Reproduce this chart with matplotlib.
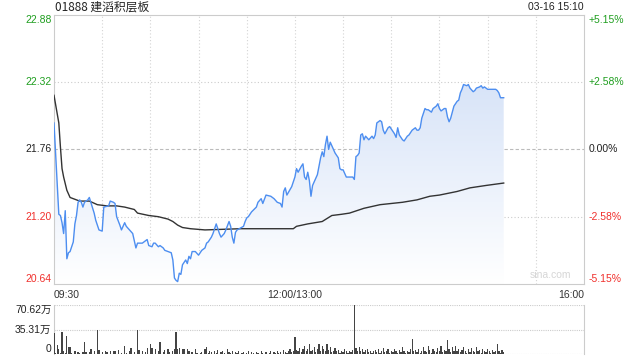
import numpy as np
import matplotlib.pyplot as plt
from matplotlib.colors import LinearSegmentedColormap

# minute index from 09:30 (lunch break removed), 330 minutes per session day
price_min = [0, 3, 4, 5, 6, 7, 8, 9, 10, 12, 13, 14, 15, 16, 17, 18, 19, 21, 22, 25,
             26, 28, 30, 31, 34, 35, 37, 38, 39, 41, 42, 44, 45, 47, 49, 51, 52, 55, 56, 58,
             59, 61, 62, 63, 65, 66, 68, 69, 71, 73, 74, 75, 76, 77, 78, 79, 80, 82, 83, 84,
             85, 86, 88, 90, 92, 94, 95, 96, 98, 99, 100, 101, 102, 103, 104, 106, 107, 109, 110, 111,
             112, 113, 114, 118, 119, 120, 121, 123, 126, 127, 129, 130, 132, 135, 137, 139, 141, 142, 143, 144,
             145, 148, 149, 150, 151, 152, 154, 155, 156, 157, 158, 159, 160, 161, 164, 166, 167, 168, 169, 170,
             171, 172, 174, 175, 177, 178, 179, 180, 181, 182, 186, 187, 188, 189, 190, 191, 192, 193, 194, 196,
             198, 199, 200, 201, 203, 204, 205, 206, 208, 209, 210, 211, 212, 213, 214, 215, 216, 217, 218, 220,
             221, 223, 225, 226, 227, 228, 229, 231, 232, 233, 235, 236, 238, 239, 240, 241, 242, 243, 244, 245,
             246, 247, 248, 249, 250, 251, 252, 253, 254, 255, 257, 258, 259, 261, 262, 263, 265, 266, 267, 268,
             269, 270, 272, 275, 276, 277, 278, 280]
price_val = [21.98, 21.22, 21.21, 21.15, 21.06, 21.25, 20.85, 20.90, 20.91, 20.99, 21.14, 21.21, 21.32, 21.34, 21.32, 21.28, 21.32, 21.34, 21.36, 21.23,
             21.17, 21.09, 21.08, 21.28, 21.29, 21.33, 21.32, 21.31, 21.20, 21.13, 21.09, 21.15, 21.12, 21.09, 21.06, 20.94, 20.98, 20.98, 20.99, 21.01,
             20.96, 20.95, 20.98, 20.98, 20.95, 20.96, 20.94, 20.92, 20.91, 20.90, 20.84, 20.69, 20.67, 20.66, 20.73, 20.72, 20.80, 20.84, 20.81, 20.87,
             20.85, 20.91, 20.91, 20.88, 20.92, 20.94, 20.98, 20.99, 21.03, 21.06, 21.10, 21.14, 21.10, 21.06, 21.03, 21.06, 21.09, 21.16, 21.12, 21.03,
             20.98, 21.07, 21.09, 21.12, 21.16, 21.19, 21.20, 21.24, 21.28, 21.32, 21.35, 21.31, 21.38, 21.37, 21.35, 21.32, 21.31, 21.28, 21.41, 21.44,
             21.38, 21.45, 21.49, 21.53, 21.60, 21.57, 21.62, 21.64, 21.53, 21.51, 21.57, 21.50, 21.37, 21.46, 21.55, 21.69, 21.74, 21.70, 21.80, 21.87,
             21.76, 21.82, 21.76, 21.73, 21.69, 21.60, 21.59, 21.59, 21.56, 21.53, 21.53, 21.51, 21.70, 21.71, 21.73, 21.88, 21.89, 21.84, 21.87, 21.84,
             21.87, 21.85, 21.88, 21.98, 22.00, 21.99, 21.92, 21.89, 21.94, 21.95, 21.93, 21.91, 21.89, 21.86, 21.94, 21.88, 21.86, 21.84, 21.83, 21.87,
             21.88, 21.92, 21.94, 21.92, 21.92, 21.94, 22.02, 22.10, 22.09, 22.09, 22.07, 22.10, 22.12, 22.14, 22.10, 22.08, 22.09, 22.10, 22.10, 22.03,
             21.99, 22.02, 22.07, 22.12, 22.14, 22.16, 22.17, 22.23, 22.26, 22.30, 22.29, 22.30, 22.27, 22.24, 22.25, 22.27, 22.28, 22.29, 22.27, 22.28,
             22.27, 22.26, 22.26, 22.26, 22.25, 22.23, 22.19, 22.19]

avg_min = [0, 3, 4, 5, 6, 8, 10, 16, 22, 27, 33, 39, 44, 50, 52, 59, 65, 71, 74, 77,
           80, 85, 94, 116, 141, 149, 151, 158, 167, 173, 179, 184, 193, 203, 217, 226, 234, 240, 251, 259,
           269, 280]
avg_val = [22.21, 21.98, 21.78, 21.60, 21.53, 21.42, 21.36, 21.33, 21.33, 21.30, 21.29, 21.29, 21.28, 21.26, 21.23, 21.21, 21.20, 21.18, 21.16, 21.13,
           21.11, 21.10, 21.09, 21.10, 21.10, 21.10, 21.12, 21.14, 21.16, 21.21, 21.22, 21.23, 21.27, 21.30, 21.32, 21.34, 21.37, 21.38, 21.41, 21.44,
           21.46, 21.48]

# volume per minute, in 万 shares
volume = [31, 2, 13, 7, 2, 32, 5, 2, 26, 10, 10, 2, 1, 4, 1, 3, 2, 1, 3, 17,
          3, 1, 3, 7, 1, 5, 1, 34, 6, 1, 3, 1, 5, 3, 1, 5, 1, 4, 4, 1,
          6, 1, 2, 1, 12, 2, 1, 5, 9, 1, 3, 1, 35, 6, 1, 4, 1, 3, 9, 1,
          15, 9, 1, 8, 1, 4, 18, 1, 3, 6, 1, 7, 3, 1, 4, 7, 32, 7, 9, 1,
          8, 7, 1, 8, 4, 1, 3, 1, 7, 2, 1, 2, 3, 1, 7, 11, 2, 5, 3, 1,
          4, 2, 6, 1, 3, 5, 2, 1, 7, 3, 2, 4, 1, 3, 2, 5, 1, 2, 3, 1,
          2, 4, 1, 3, 2, 1, 3, 2, 1, 4, 2, 1, 3, 1, 2, 4, 1, 3, 2, 5,
          2, 3, 1, 6, 3, 2, 4, 8, 3, 5, 24, 6, 4, 9, 3, 7, 12, 5, 8, 14,
          4, 6, 10, 3, 8, 14, 5, 12, 7, 4, 15, 6, 10, 3, 5, 9, 4, 6, 2, 5,
          3, 7, 4, 2, 5, 3, 6, 70.62, 9, 5, 10, 4, 7, 3, 6, 8, 3, 5, 2, 4,
          6, 3, 8, 2, 5, 9, 3, 4, 7, 2, 5, 3, 8, 4, 2, 6, 3, 10, 4, 2,
          5, 3, 7, 22, 4, 6, 3, 8, 2, 5, 10, 4, 3, 12, 6, 2, 7, 4, 3, 9,
          5, 12, 3, 6, 4, 20, 7, 3, 10, 5, 12, 4, 8, 3, 6, 11, 4, 2, 7, 3,
          9, 5, 3, 10, 4, 6, 2, 8, 5, 3, 7, 4, 2, 6, 3, 5, 15, 4, 2, 6,
          3]

prev_close = 21.76
price_ticks = [20.64, 21.20, 21.76, 22.32, 22.88]
pct_labels = ['-5.15%', '-2.58%', '0.00%', '+2.58%', '+5.15%']
tick_colors = ['#f0302c', '#f0302c', '#222222', '#1f9e1f', '#1f9e1f']
vol_ticks = [0, 35.31, 70.62]
vol_labels = ['0', '35.31万', '70.62万']

GREY = '#cccccc'
FONT = ['Liberation Sans', 'Noto Sans CJK SC', 'DejaVu Sans']
plt.rcParams['font.family'] = FONT

fig = plt.figure(figsize=(6.4, 3.6), dpi=100)
ax = fig.add_axes([54 / 640, 1 - 284 / 360, 530 / 640, 269.2 / 360])
vax = fig.add_axes([54 / 640, 1 - 354.3 / 360, 530 / 640, 49.6 / 360])

# ---- price panel ----
ax.set_xlim(0, 330)
ax.set_ylim(price_ticks[0], price_ticks[-1])
for y in [21.20, 22.32]:
    ax.axhline(y, color=GREY, lw=0.8, ls=(0, (1, 2)), zorder=1)
ax.axhline(prev_close, color='#bbbbbb', lw=0.8, ls=(0, (3, 2)), zorder=1)
for m in range(30, 330, 30):
    ax.axvline(m, color='#d4d4d4', lw=0.8, ls=(0, (1, 2)), zorder=1)

# gradient fill under the price line
poly = ax.fill_between(price_min, price_val, price_ticks[0], color='none', lw=0)
cmap = LinearSegmentedColormap.from_list('fade', ['#ffffff', '#d8e4f8'])
grad = np.linspace(0, 1, 256).reshape(-1, 1)
im = ax.imshow(grad, cmap=cmap, origin='lower', aspect='auto',
               extent=[0, 330, price_ticks[0], max(price_val)], zorder=2)
im.set_clip_path(poly.get_paths()[0], transform=ax.transData)

ax.plot(price_min, price_val, color='#4d8ef0', lw=1.0, zorder=4)
ax.plot(avg_min, avg_val, color='#333333', lw=1.0, zorder=3)

for s in ax.spines.values():
    s.set_color(GREY)
    s.set_linewidth(0.8)
ax.set_yticks([])
ax.set_xticks([0, 150, 330], ['09:30', '12:00/13:00', '16:00'])
ax.tick_params(axis='x', length=0, pad=4, labelsize=7.5, labelcolor='#333333')
xl = ax.get_xticklabels()
xl[0].set_ha('left')
xl[2].set_ha('right')

for i, (p, lab, c) in enumerate(zip(price_ticks, pct_labels, tick_colors)):
    va = 'bottom' if i == 0 else ('top' if i == len(price_ticks) - 1 else 'center')
    ax.text(-0.005, p, f'{p:.2f}', transform=ax.get_yaxis_transform(),
            ha='right', va=va, color=c, fontsize=7.5)
    ax.text(1.008, p, lab, transform=ax.get_yaxis_transform(),
            ha='left', va=va, color=c, fontsize=7.5)

ax.text(0.975, 0.015, 'sina.com', transform=ax.transAxes, ha='right', va='bottom',
        color='#d6d6d6', fontsize=7.5)

fig.text(55 / 640, 1 - 7 / 360, '01888 建滔积层板', ha='left', va='center',
         fontsize=8.5, color='#222222', family=['Noto Sans CJK SC', 'DejaVu Sans'])
fig.text(584 / 640, 1 - 7 / 360, '03-16 15:10', ha='right', va='center',
         fontsize=7.5, color='#222222')

# ---- volume panel ----
vax.bar(np.arange(len(volume)), volume, width=0.8, color='#444444', zorder=3)
vax.set_xlim(0, 330)
vax.set_ylim(0, vol_ticks[-1])
for v in vol_ticks:
    vax.axhline(v, color=GREY, lw=0.8, ls=(0, (1, 1)), zorder=1)
for side in ['top', 'bottom']:
    vax.spines[side].set_visible(False)
for side in ['left', 'right']:
    vax.spines[side].set_color(GREY)
    vax.spines[side].set_linewidth(0.8)
vax.set_xticks([])
vax.set_yticks([])
for i, (v, lab) in enumerate(zip(vol_ticks, vol_labels)):
    va = ['bottom', 'center', 'top'][i]
    vax.text(-0.005, v, lab, transform=vax.get_yaxis_transform(),
             ha='right', va=va, color='#222222', fontsize=7.5)

fig.savefig('out.png', dpi=100)
